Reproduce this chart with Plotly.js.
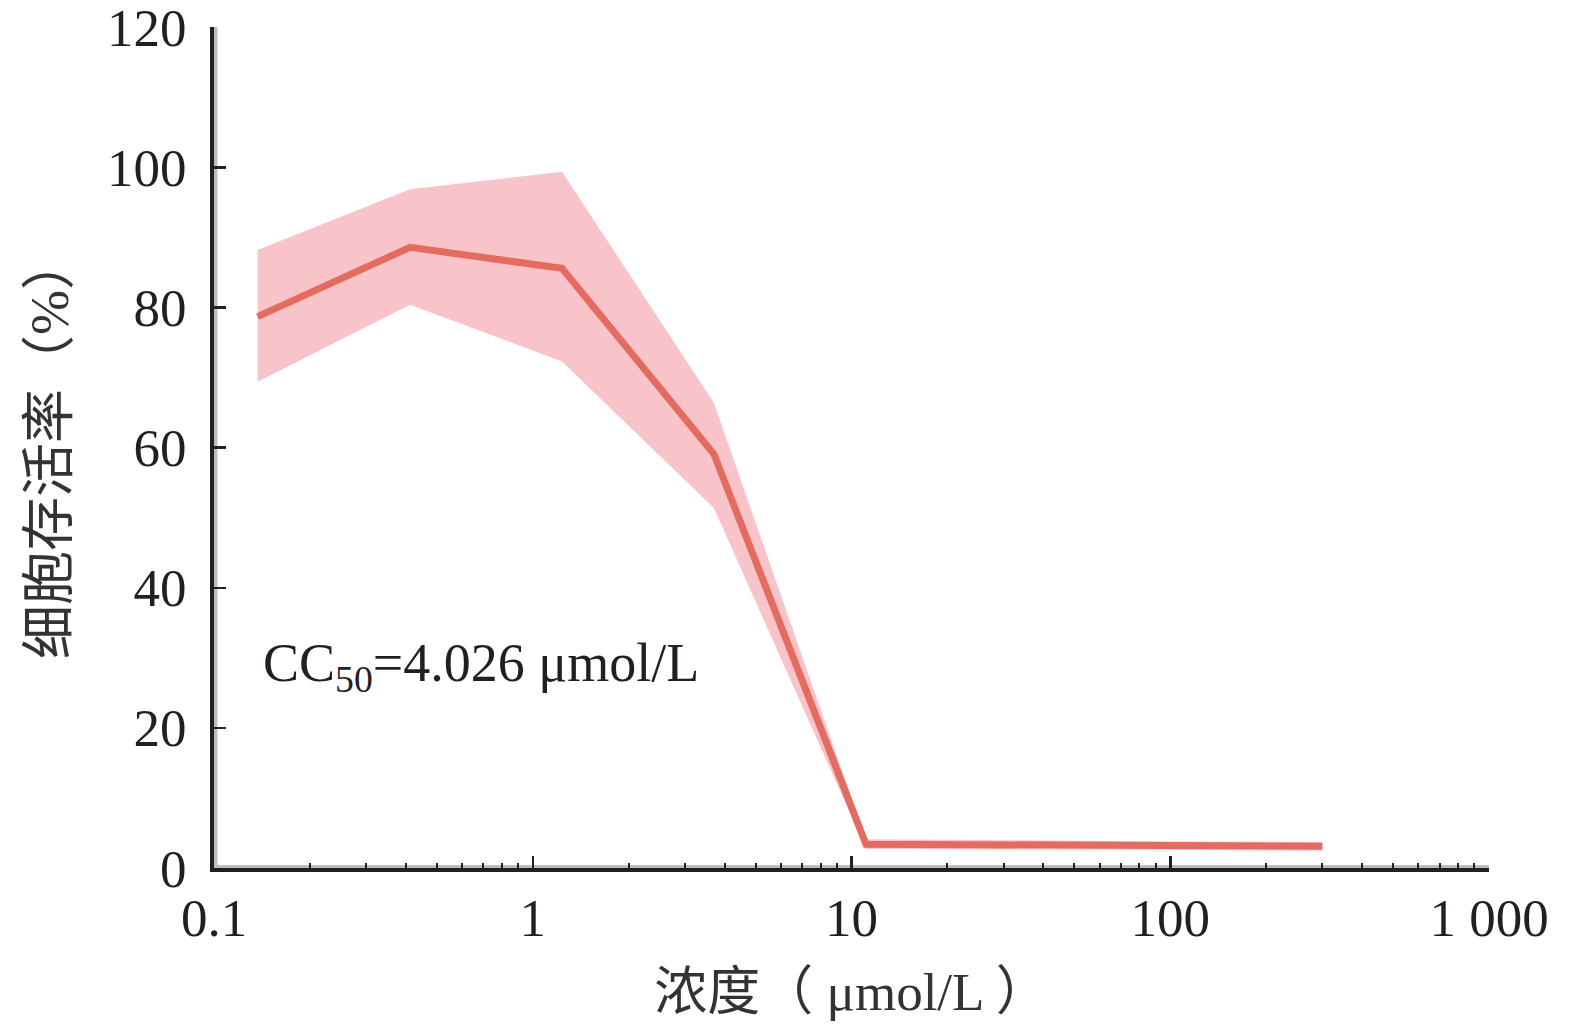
<!DOCTYPE html>
<html>
<head>
<meta charset="utf-8">
<script src="https://cdn.plot.ly/plotly-3.0.1.min.js"></script>
<style>html,body{margin:0;padding:0;background:#fff;}#chart{width:1575px;height:1027px;}</style>
</head>
<body>
<div id="chart"></div>
<script>
// Concentration (μmol/L)
const concentration = [0.137, 0.412, 1.235, 3.7, 11.1, 33.3, 100, 300];
// Mean cell viability (%)
const viabilityMean = [78.7, 88.6, 85.6, 59.1, 3.4, 3.3, 3.2, 3.1];
// Upper / lower bounds of the shaded band (%)
const viabilityUpper = [88.2, 96.9, 99.4, 66.4, 4.1, 3.9, 3.8, 3.7];
const viabilityLower = [69.4, 80.4, 72.3, 51.4, 2.7, 2.7, 2.6, 2.5];
// Axis tick labels
const xTickVals = [0.1, 1, 10, 100, 1000];
const xTickText = ["0.1", "1", "10", "100", "1 000"];
const yTickVals = [0, 20, 40, 60, 80, 100, 120];

const FONT = "'Liberation Serif', 'Times New Roman', 'Noto Sans CJK SC', serif";
const CJK = "Noto Sans CJK SC";
const TXT = "#231f20";

const traces = [
  {x: concentration, y: viabilityLower, type: "scatter", mode: "lines",
   line: {width: 0, color: "rgba(0,0,0,0)"}, hoverinfo: "skip", showlegend: false},
  {x: concentration, y: viabilityUpper, type: "scatter", mode: "lines",
   line: {width: 0, color: "rgba(0,0,0,0)"}, fill: "tonexty", fillcolor: "#F9C4C9",
   hoverinfo: "skip", showlegend: false},
  {x: concentration, y: viabilityMean, type: "scatter", mode: "lines",
   line: {width: 7, color: "#E36B60"}, showlegend: false}
];

const layout = {
  width: 1575, height: 1027,
  margin: {l: 214, r: 86, t: 27, b: 159},
  paper_bgcolor: "#fff", plot_bgcolor: "#fff",
  font: {family: FONT, size: 52, color: TXT},
  showlegend: false,
  xaxis: {
    type: "log", range: [-1, 3],
    tickvals: xTickVals, ticktext: xTickText,
    ticks: "inside", ticklen: 12, tickwidth: 2.5, tickcolor: "#231f20",
    showline: true, linewidth: 4, linecolor: "#231f20",
    showgrid: false, zeroline: false,
    minor: {ticks: "inside", ticklen: 5, tickwidth: 2, tickcolor: "#231f20", dtick: "D1", showgrid: false},
    tickfont: {family: FONT, size: 53, color: TXT},
    ticklabeloverflow: "allow",
    title: {text: "浓度<span style=\"font-family:'" + CJK + "'\">（</span> μmol/L <span style=\"font-family:'" + CJK + "'\">）</span>",
            font: {family: FONT, size: 53, color: "#333"}, standoff: 28}
  },
  yaxis: {
    range: [0, 120.05],
    tickvals: yTickVals,
    ticks: "inside", ticklen: 12, tickwidth: 2.5, tickcolor: "#231f20",
    showline: true, linewidth: 4, linecolor: "#231f20",
    showgrid: false, zeroline: false,
    tickfont: {family: FONT, size: 53, color: TXT},
    ticklabelstandoff: 13,
    ticklabeloverflow: "allow",
    title: {text: "细胞存活率<span style=\"font-family:'" + CJK + "'\">（</span>%<span style=\"font-family:'" + CJK + "'\">）</span>",
            font: {family: FONT, size: 54, color: "#333"}, standoff: 22}
  },
  shapes: [
    {type: "rect", xref: "paper", yref: "paper", xsizemode: "pixel", xanchor: 0,
     x0: 0, x1: 3.5, y0: 0, y1: 1, fillcolor: "#bdbdbd", line: {width: 0}, layer: "below"},
    {type: "rect", xref: "paper", yref: "paper", ysizemode: "pixel", yanchor: 0,
     y0: 0, y1: 3, x0: 0, x1: 1, fillcolor: "#bdbdbd", line: {width: 0}, layer: "below"}
  ],
  annotations: [
    {xref: "paper", yref: "paper", x: 0.037, y: 0.24, xanchor: "left", yanchor: "middle",
     text: "CC<sub>50</sub>=4.026 μmol/L", showarrow: false,
     font: {family: FONT, size: 54, color: TXT}}
  ]
};

Plotly.newPlot("chart", traces, layout, {staticPlot: true, displayModeBar: false});
</script>
</body>
</html>
